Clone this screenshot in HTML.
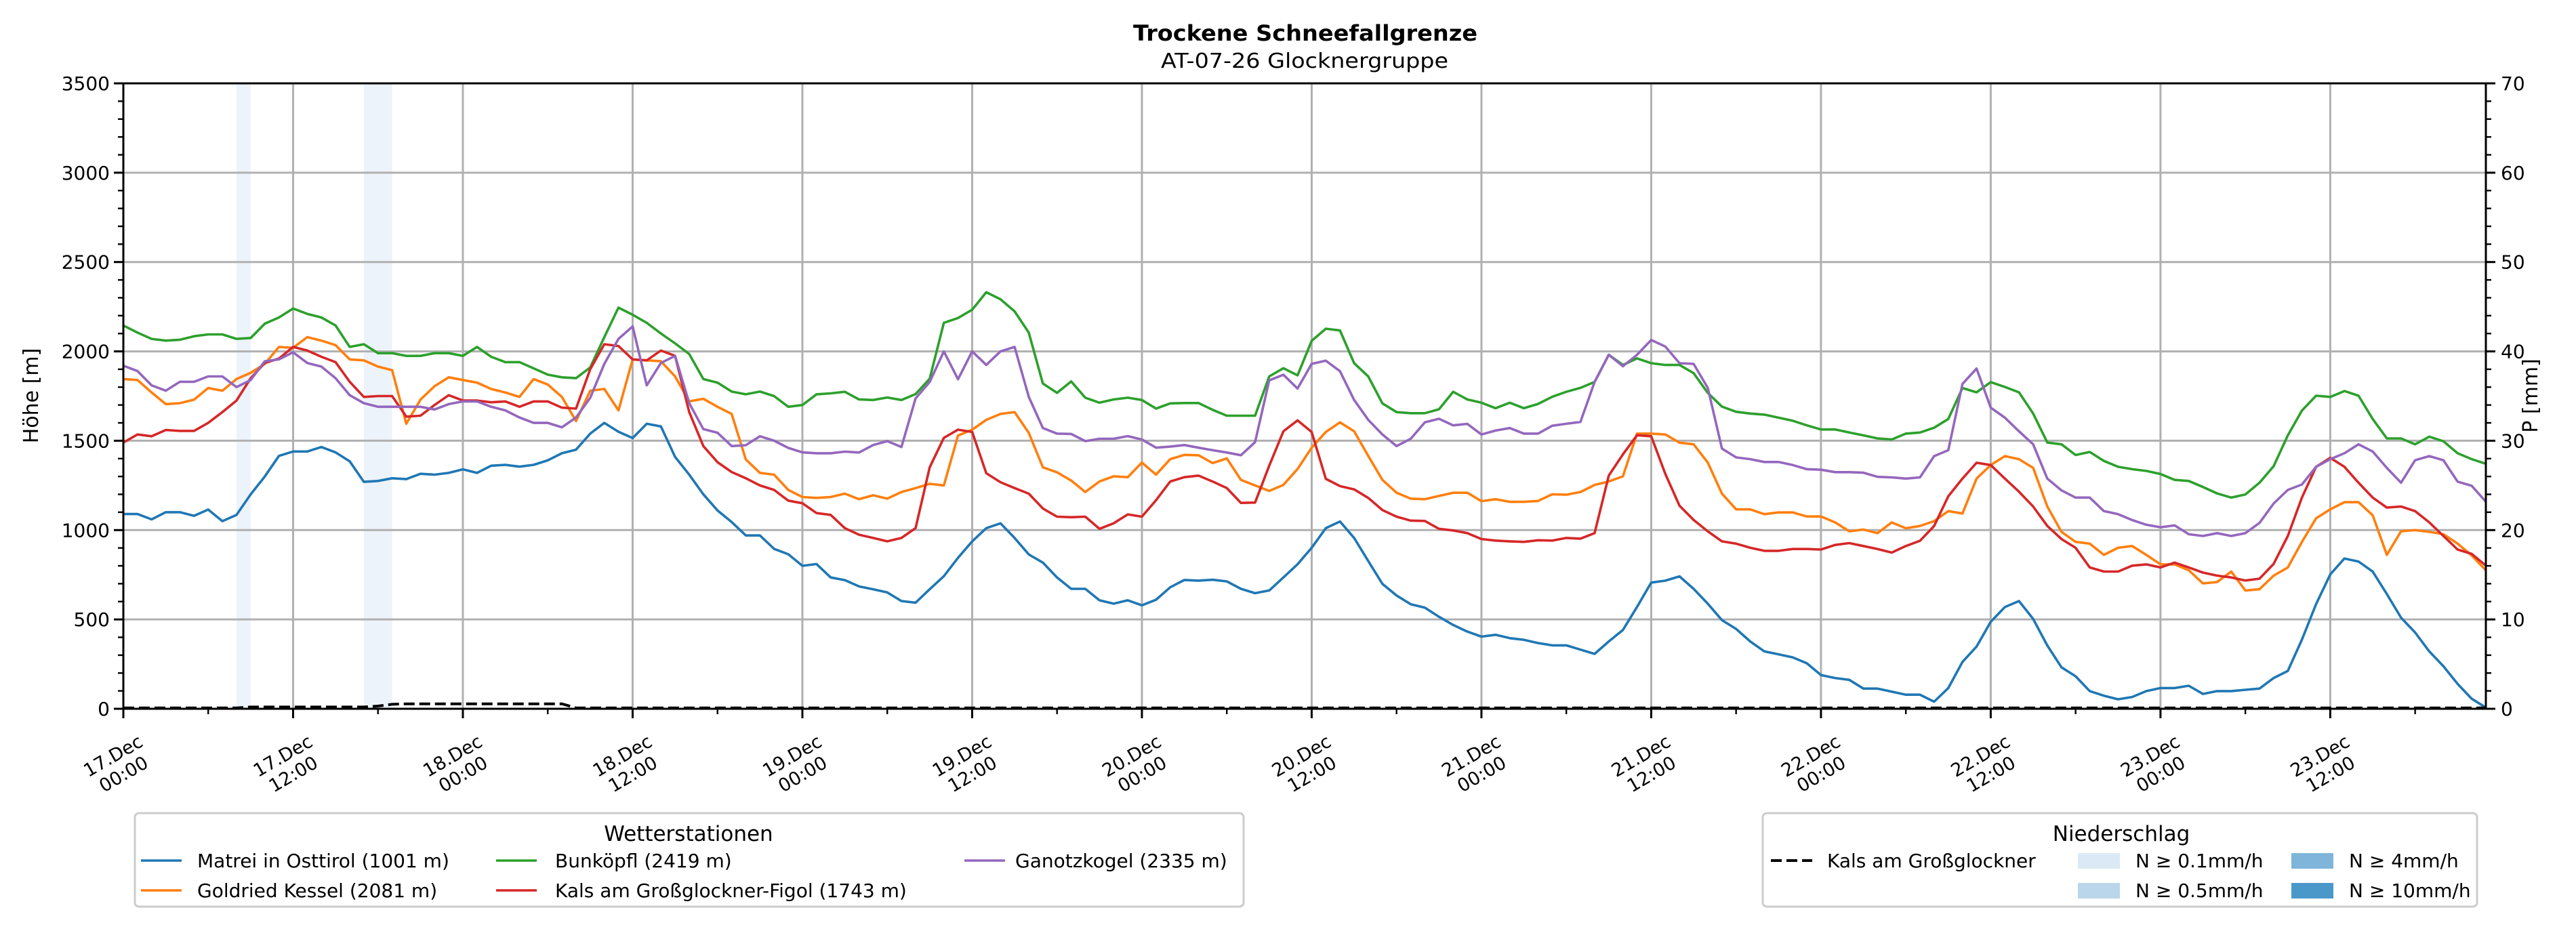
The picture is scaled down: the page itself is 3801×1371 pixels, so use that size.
<!DOCTYPE html>
<html><head><meta charset="utf-8"><title>Trockene Schneefallgrenze</title>
<style>html,body{margin:0;padding:0;background:#fff;}svg{display:block;font-family:"DejaVu Sans","Liberation Sans",sans-serif;}</style>
</head><body>
<svg id="chart" xmlns="http://www.w3.org/2000/svg" width="3801" height="1371" viewBox="0 0 3801 1371">
<rect x="0" y="0" width="3801" height="1371" fill="#fff"/>
<text x="1926" y="60" text-anchor="middle" font-size="32" font-weight="bold" textLength="508" lengthAdjust="spacingAndGlyphs">Trockene Schneefallgrenze</text>
<text x="1925" y="100" text-anchor="middle" font-size="30" textLength="424" lengthAdjust="spacingAndGlyphs">AT-07-26 Glocknergruppe</text>
<g id="bands"></g><g id="grid"></g><g id="series"></g><g id="axes"></g><g id="legends"></g>
</svg>
<script>
const seriesNames=["Matrei in Osttirol (1001 m)","Goldried Kessel (2081 m)","Bunköpfl (2419 m)","Kals am Großglockner-Figol (1743 m)","Ganotzkogel (2335 m)"];
const seriesColors=["#1f77b4","#ff7f0e","#2ca02c","#d62728","#9467bd"];
const matrei=[1090,1090,1060,1100,1100,1080,1115,1050,1085,1200,1300,1415,1440,1440,1465,1435,1385,1270,1275,1290,1285,1315,1310,1320,1340,1320,1360,1365,1355,1365,1390,1430,1450,1540,1600,1550,1515,1595,1580,1410,1310,1200,1110,1045,970,970,895,865,800,810,735,
720,685,669,651,603,594,669,742,845,937,1011,1038,956,864,818,735,671,671,607,588,607,579,610,680,721,717,722,713,671,647,662,735,809,901,1011,1048,956,827,699,634,585,566,515,469,432,404,414,395,386,368,355,355,331,307,377,441,570,706,717,741,671,588,496,
447,377,321,305,288,255,189,172,162,113,113,96,79,79,40,116,262,348,487,569,603,503,354,232,182,99,73,53,66,99,116,116,129,83,99,99,106,113,172,212,387,586,752,841,824,768,642,510,427,321,238,139,56,7];
const goldried=[1845,1840,1770,1705,1710,1730,1795,1780,1845,1880,1930,2025,2020,2080,2060,2035,1955,1950,1915,1895,1595,1730,1805,1855,1840,1825,1790,1770,1745,1845,1815,1745,1610,1780,1790,1670,1955,1950,1945,1860,1720,1735,1690,1650,1395,1320,1310,1225,1185,1180,1185,
1204,1173,1195,1176,1213,1235,1259,1250,1529,1562,1617,1650,1660,1544,1351,1323,1277,1213,1272,1301,1296,1378,1310,1397,1421,1419,1375,1401,1281,1250,1219,1253,1342,1461,1549,1603,1553,1415,1281,1209,1176,1173,1191,1209,1209,1162,1173,1158,1158,1163,1200,1198,1213,1253,1272,1301,1540,1540,1535,1489,1480,1378,1204,
1116,1116,1089,1099,1099,1076,1076,1043,993,1003,983,1043,1010,1023,1050,1106,1093,1288,1364,1414,1397,1348,1132,990,934,924,861,901,911,861,808,808,775,702,709,768,662,669,745,791,934,1066,1116,1156,1156,1083,861,993,1000,990,977,924,858,775];
const bunkoepfl=[2145,2105,2070,2060,2065,2085,2095,2095,2070,2075,2155,2190,2240,2210,2190,2145,2025,2040,1990,1990,1975,1975,1990,1990,1975,2025,1970,1940,1940,1905,1870,1855,1850,1910,2080,2245,2205,2160,2100,2045,1985,1845,1825,1775,1760,1775,1750,1690,1700,1760,1765,
1774,1731,1728,1742,1728,1761,1847,2160,2187,2233,2331,2292,2224,2105,1820,1768,1832,1741,1713,1731,1741,1728,1680,1709,1711,1711,1673,1640,1640,1640,1860,1906,1866,2059,2127,2117,1934,1860,1709,1660,1654,1654,1676,1774,1731,1713,1682,1713,1682,1706,1746,1774,1796,1829,1981,1924,1961,1934,1924,1924,1878,1768,1691,
1662,1652,1646,1629,1612,1586,1563,1563,1546,1530,1513,1507,1540,1546,1573,1622,1795,1771,1828,1801,1771,1652,1490,1480,1420,1437,1387,1354,1341,1331,1314,1281,1275,1241,1205,1182,1199,1265,1358,1530,1669,1752,1745,1778,1752,1622,1513,1513,1480,1523,1497,1430,1397,1371];
const figol=[1490,1535,1525,1560,1555,1555,1600,1660,1725,1850,1935,1960,2025,2005,1970,1940,1830,1745,1750,1750,1635,1640,1700,1755,1725,1725,1715,1720,1690,1720,1720,1685,1680,1900,2040,2030,1955,1950,2005,1975,1660,1470,1380,1325,1290,1250,1225,1165,1150,1095,1085,
1011,974,956,937,956,1011,1351,1516,1562,1549,1318,1268,1235,1204,1121,1075,1072,1075,1007,1038,1088,1075,1167,1272,1296,1305,1272,1235,1152,1154,1360,1553,1614,1549,1287,1246,1228,1180,1112,1075,1053,1051,1007,998,983,950,941,937,934,943,941,956,952,983,1305,1424,1531,1525,1314,1136,1057,993,937,
924,901,884,884,894,894,891,917,927,911,894,874,911,940,1023,1189,1288,1377,1364,1288,1215,1132,1023,950,901,791,768,768,801,808,791,818,791,762,745,735,718,728,811,967,1182,1354,1404,1354,1265,1182,1126,1132,1106,1043,967,891,867,801];
const ganotz=[1920,1890,1810,1780,1830,1830,1860,1860,1800,1840,1945,1955,1995,1935,1915,1850,1755,1710,1690,1690,1690,1690,1675,1705,1720,1720,1690,1670,1630,1600,1600,1575,1630,1740,1930,2070,2140,1810,1935,1975,1710,1565,1545,1470,1475,1525,1500,1460,1435,1430,1430,
1439,1434,1476,1498,1465,1737,1829,2000,1844,2000,1924,2000,2025,1746,1571,1540,1538,1498,1511,1511,1526,1507,1461,1467,1476,1461,1447,1434,1419,1492,1838,1869,1792,1930,1948,1889,1728,1617,1535,1470,1511,1603,1623,1586,1594,1535,1557,1571,1540,1540,1584,1595,1605,1829,1981,1917,1981,2064,2027,1934,1930,1796,1456,
1407,1397,1381,1381,1364,1341,1338,1324,1324,1321,1298,1295,1288,1295,1414,1447,1818,1904,1685,1629,1553,1480,1288,1222,1182,1182,1106,1089,1056,1030,1016,1026,977,967,983,967,983,1040,1149,1225,1255,1354,1397,1430,1480,1440,1348,1265,1391,1414,1391,1271,1248,1159];
const precipHours=[0,8,9,17,18,19,20,31,32,167];
const precipValues=[0.1,0.1,0.2,0.2,0.3,0.5,0.55,0.55,0.1,0.1];
const bandStart=[8,17];
const bandEnd=[9,19];
const xTickDays=["17.Dec","17.Dec","18.Dec","18.Dec","19.Dec","19.Dec","20.Dec","20.Dec","21.Dec","21.Dec","22.Dec","22.Dec","23.Dec","23.Dec"];
const xTickTimes=["00:00","12:00","00:00","12:00","00:00","12:00","00:00","12:00","00:00","12:00","00:00","12:00","00:00","12:00"];
const yTicks=[0,500,1000,1500,2000,2500,3000,3500];
const pTicks=[0,10,20,30,40,50,60,70];

const NS="http://www.w3.org/2000/svg";
const L=182,R=3668,T=123,B=1046,HMAX=167;
const X=h=>L+h*(R-L)/HMAX;
const Y=v=>B-v*(B-T)/3500;
const YP=p=>B-p*(B-T)/70;
function mk(tag,attrs,parent,txt){const e=document.createElementNS(NS,tag);for(const k in attrs)e.setAttribute(k,attrs[k]);if(txt!==undefined)e.textContent=txt;parent.appendChild(e);return e;}
const gB=document.getElementById('bands'),gG=document.getElementById('grid'),gS=document.getElementById('series'),gA=document.getElementById('axes'),gL=document.getElementById('legends');

bandStart.forEach((s,i)=>{const r=mk('rect',{x:X(s),y:T,width:X(bandEnd[i])-X(s),height:B-T,fill:'#edf3fa'},gB);

});

yTicks.forEach(v=>{if(v>0&&v<3500){const l=mk('line',{x1:L,x2:R,y1:Y(v),y2:Y(v),stroke:'#b0b0b0','stroke-width':3},gG);

}});
xTickDays.forEach((d,i)=>{if(i>0){const l=mk('line',{x1:X(i*12),x2:X(i*12),y1:T,y2:B,stroke:'#b0b0b0','stroke-width':3},gG);

}});

const allSeries=[matrei,goldried,bunkoepfl,figol,ganotz];
allSeries.forEach((arr,si)=>{const pts=arr.map((v,h)=>X(h).toFixed(1)+','+Y(v).toFixed(1)).join(' ');
const p=mk('polyline',{points:pts,fill:'none',stroke:seriesColors[si],'stroke-width':3.6,'stroke-linejoin':'round'},gS);

});
const pp=precipHours.map((h,i)=>X(h).toFixed(1)+','+YP(precipValues[i]).toFixed(1)).join(' ');
const pl=mk('polyline',{points:pp,fill:'none',stroke:'#000','stroke-width':4,'stroke-dasharray':'16,7'},gS);



const fr=mk('rect',{x:L,y:T,width:R-L,height:B-T,fill:'none',stroke:'#000','stroke-width':3},gA);


for(let v=0;v<=3500;v+=100){const major=v%500===0;mk('line',{x1:L,x2:L-(major?14:8),y1:Y(v),y2:Y(v),stroke:'#000','stroke-width':major?3:2.4},gA);}
yTicks.forEach(v=>{const t=mk('text',{x:L-20,y:Y(v)+10,'text-anchor':'end','font-size':28},gA,String(v));

});
for(let p=0;p<=70;p+=2){const major=p%10===0;mk('line',{x1:R,x2:R+(major?14:8),y1:YP(p),y2:YP(p),stroke:'#000','stroke-width':major?3:2.4},gA);}
pTicks.forEach(p=>{const t=mk('text',{x:R+22,y:YP(p)+10,'text-anchor':'start','font-size':28},gA,String(p));

});
for(let h=0;h<=HMAX;h+=6){const major=h%12===0;mk('line',{x1:X(h),x2:X(h),y1:B,y2:B+(major?14:8),stroke:'#000','stroke-width':major?3:2.4},gA);}
xTickDays.forEach((d,i)=>{const g=mk('g',{transform:'translate('+(X(i*12)-8)+',1128) rotate(-30)'},gA);


mk('text',{x:0,y:-5,'text-anchor':'middle','font-size':27},g,d);
mk('text',{x:0,y:26,'text-anchor':'middle','font-size':27},g,xTickTimes[i]);});
const yl=mk('text',{x:0,y:0,transform:'translate(56,584) rotate(-90)','text-anchor':'middle','font-size':30},gA,'Höhe [m]');


const pl2=mk('text',{x:0,y:0,transform:'translate(3744,584) rotate(-90)','text-anchor':'middle','font-size':30},gA,'P [mm]');



const lg1=mk('g',{},gL);


mk('rect',{x:199,y:1200,width:1636,height:138,rx:6,fill:'#fff',stroke:'#cccccc','stroke-width':3},lg1);
mk('text',{x:1016,y:1241,'text-anchor':'middle','font-size':31},lg1,'Wetterstationen');
const lpos=[[208,291,1270],[208,291,1314],[732,819,1270],[732,819,1314],[1423,1498,1270]];
seriesNames.forEach((n,i)=>{const [lx,tx,ly]=lpos[i];const e=mk('g',{},lg1);


mk('line',{x1:lx,x2:lx+60,y1:ly,y2:ly,stroke:seriesColors[i],'stroke-width':3.6},e);
mk('text',{x:tx,y:ly+10,'font-size':28},e,n);});
const lg2=mk('g',{},gL);


mk('rect',{x:2601,y:1200,width:1054,height:138,rx:6,fill:'#fff',stroke:'#cccccc','stroke-width':3},lg2);
mk('text',{x:3130,y:1241,'text-anchor':'middle','font-size':31},lg2,'Niederschlag');
const e0=mk('g',{},lg2);


mk('line',{x1:2613,x2:2674,y1:1270,y2:1270,stroke:'#000','stroke-width':4,'stroke-dasharray':'16,7'},e0);
mk('text',{x:2696,y:1280,'font-size':28},e0,'Kals am Großglockner');
const patches=[[3066,1270,'#dbe9f6','N ≥ 0.1mm/h'],[3066,1314,'#bad6eb','N ≥ 0.5mm/h'],[3381,1270,'#7fb5da','N ≥ 4mm/h'],[3381,1314,'#4a98c9','N ≥ 10mm/h']];
patches.forEach(p=>{const e=mk('g',{},lg2);


mk('rect',{x:p[0],y:p[1]-11,width:62,height:23,fill:p[2]},e);
mk('text',{x:p[0]+85,y:p[1]+10,'font-size':28},e,p[3]);});
</script>
</body></html>
